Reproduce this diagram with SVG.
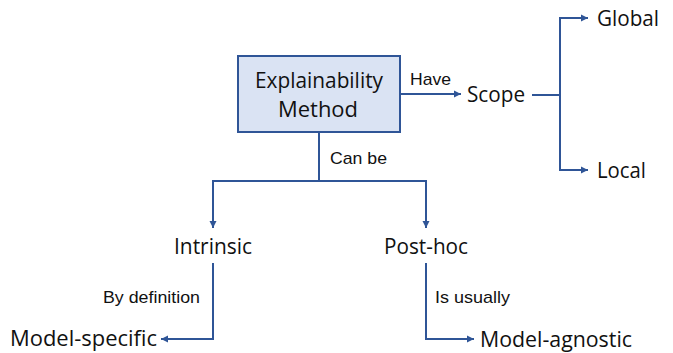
<svg xmlns="http://www.w3.org/2000/svg" width="673" height="353" viewBox="0 0 673 353">
<style>
.node{font-family:"Open Sans","Noto Sans",sans-serif;font-size:21.5px;fill:#111}
.lbl{font-family:"Liberation Sans",Arial,sans-serif;font-size:17px;fill:#111}
.edge{fill:none;stroke:#2F5597;stroke-width:2}
</style>
<defs>
<marker id="arr" markerUnits="userSpaceOnUse" markerWidth="8" markerHeight="8" refX="7" refY="4" orient="auto">
<path d="M0,0.5 L7,4 L0,7.5 Z" fill="#2F5597"/>
</marker>
</defs>
<g id="connectors">
<path class="edge" d="M400,94 H461" marker-end="url(#arr)"/>
<path class="edge" d="M532,95 H560"/>
<path class="edge" d="M560,95 V18 H588" marker-end="url(#arr)"/>
<path class="edge" d="M560,95 V170 H588" marker-end="url(#arr)"/>
<path class="edge" d="M319,132 V181"/>
<path class="edge" d="M319,181 H213 V228" marker-end="url(#arr)"/>
<path class="edge" d="M319,181 H426 V228" marker-end="url(#arr)"/>
<path class="edge" d="M213,263 V339 H161" marker-end="url(#arr)"/>
<path class="edge" d="M426,263 V339 H474" marker-end="url(#arr)"/>
<text class="lbl" x="410" y="85" textLength="41" lengthAdjust="spacingAndGlyphs">Have</text>
<text class="lbl" x="330" y="164" textLength="57" lengthAdjust="spacingAndGlyphs">Can be</text>
<text class="lbl" x="103" y="303" textLength="97" lengthAdjust="spacingAndGlyphs">By definition</text>
<text class="lbl" x="435" y="303" textLength="75" lengthAdjust="spacingAndGlyphs">Is usually</text>
</g>
<g id="explainability-method">
<rect x="238" y="56" width="162" height="76" fill="#DAE3F3" stroke="#2F5597" stroke-width="2"/>
<text class="node" x="255" y="88" textLength="128" lengthAdjust="spacingAndGlyphs">Explainability</text>
<text class="node" x="278" y="117" textLength="80" lengthAdjust="spacingAndGlyphs">Method</text>
</g>
<g id="scope"><text class="node" x="467" y="102" textLength="58" lengthAdjust="spacingAndGlyphs">Scope</text></g>
<g id="global"><text class="node" x="597" y="26" textLength="62" lengthAdjust="spacingAndGlyphs">Global</text></g>
<g id="local"><text class="node" x="597" y="178" textLength="49" lengthAdjust="spacingAndGlyphs">Local</text></g>
<g id="intrinsic"><text class="node" x="174" y="254" textLength="78" lengthAdjust="spacingAndGlyphs">Intrinsic</text></g>
<g id="post-hoc"><text class="node" x="384" y="254" textLength="84" lengthAdjust="spacingAndGlyphs">Post-hoc</text></g>
<g id="model-specific"><text class="node" x="10" y="346" textLength="147" lengthAdjust="spacingAndGlyphs">Model-specific</text></g>
<g id="model-agnostic"><text class="node" x="480" y="347" textLength="152" lengthAdjust="spacingAndGlyphs">Model-agnostic</text></g>
</svg>
